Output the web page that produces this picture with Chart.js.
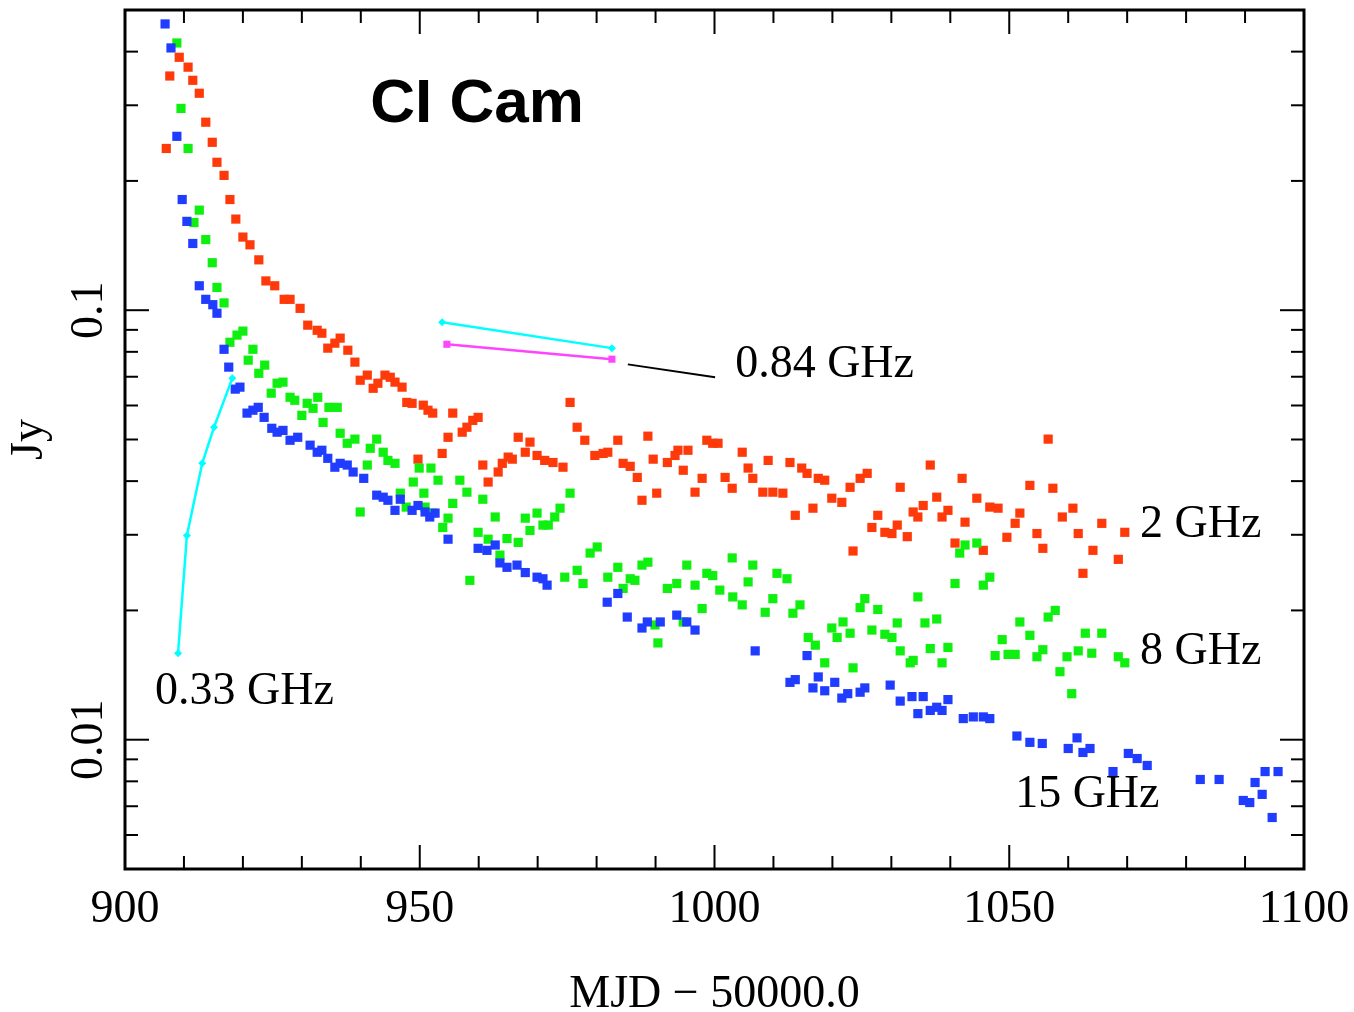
<!DOCTYPE html>
<html>
<head>
<meta charset="utf-8">
<style>
  html, body { margin: 0; padding: 0; background: #fff; }
  canvas { display: block; }
</style>
</head>
<body>
<canvas id="ciCamChart" width="1354" height="1012"></canvas>
<script src="https://cdn.jsdelivr.net/npm/chart.js"></script>
<script>
    // 2 GHz (red)
    const mjd2 = [907.0, 907.6, 909.2, 910.7, 911.5, 912.6, 913.7, 914.8, 915.6, 916.8,
        917.8, 918.8, 920.0, 921.2, 922.7, 923.9, 925.4, 927.0, 928.0, 929.7,
        931.0, 932.6, 933.4, 934.4, 935.6, 936.5, 937.8, 939.0, 939.9, 941.1,
        942.1, 942.9, 944.1, 945.0, 945.8, 947.0, 947.8, 948.7, 949.7, 950.6,
        951.4, 952.2, 953.8, 954.8, 955.6, 957.2, 958.0, 959.0, 959.9, 960.7,
        961.6, 963.3, 964.0, 965.0, 965.7, 966.7, 967.9, 968.7, 969.9, 971.2,
        972.6, 974.3, 975.5, 976.7, 978.0, 979.7, 981.1, 981.9, 983.6, 984.5,
        985.7, 986.9, 987.7, 988.7, 989.6, 990.2, 992.0, 993.3, 993.8, 994.7,
        995.5, 996.7, 997.9, 998.7, 999.7, 1000.6, 1001.8, 1003.0, 1004.7, 1005.7,
        1006.5, 1008.2, 1009.1, 1009.9, 1011.6, 1012.8, 1013.7, 1014.8, 1015.7, 1016.7,
        1017.6, 1018.7, 1019.9, 1021.6, 1023.0, 1023.5, 1024.7, 1025.9, 1026.7, 1027.7,
        1028.9, 1030.1, 1031.0, 1031.5, 1032.7, 1033.7, 1034.5, 1035.4, 1036.6, 1037.7,
        1038.6, 1039.6, 1040.8, 1042.0, 1042.5, 1044.5, 1045.6, 1046.7, 1048.1, 1049.6,
        1051.0, 1051.8, 1053.5, 1054.7, 1055.7, 1056.6, 1057.4, 1059.0, 1060.8, 1061.7,
        1062.5, 1064.2, 1065.7, 1068.5, 1069.6];
    const jy2 = [0.238, 0.351, 0.388, 0.368, 0.343, 0.320, 0.274, 0.246, 0.221, 0.206,
        0.181, 0.163, 0.148, 0.142, 0.131, 0.117, 0.114, 0.106, 0.106, 0.101,
        0.0923, 0.0898, 0.0884, 0.0816, 0.0838, 0.0861, 0.0807, 0.0757, 0.0687, 0.0706,
        0.0658, 0.0676, 0.0706, 0.0698, 0.0680, 0.0662, 0.0610, 0.0607, 0.0450, 0.0601,
        0.0585, 0.0576, 0.0464, 0.0506, 0.0576, 0.0520, 0.0534, 0.0554, 0.0563, 0.0436,
        0.0398, 0.0420, 0.0440, 0.0455, 0.0450, 0.0506, 0.0467, 0.0493, 0.0459, 0.0447,
        0.0442, 0.0431, 0.0610, 0.0534, 0.0498, 0.0459, 0.0464, 0.0467, 0.0498, 0.0440,
        0.0433, 0.0408, 0.0361, 0.0509, 0.0450, 0.0375, 0.0442, 0.0459, 0.0472, 0.0424,
        0.0472, 0.0377, 0.0406, 0.0498, 0.0490, 0.0490, 0.0408, 0.0385, 0.0467, 0.0429,
        0.0406, 0.0377, 0.0447, 0.0377, 0.0375, 0.0442, 0.0333, 0.0429, 0.0417, 0.0346,
        0.0406, 0.0402, 0.0365, 0.0357, 0.0387, 0.0275, 0.0406, 0.0417, 0.0312, 0.0333,
        0.0304, 0.0302, 0.0316, 0.0387, 0.0297, 0.0339, 0.0330, 0.0351, 0.0436, 0.0367,
        0.0330, 0.0342, 0.0287, 0.0406, 0.0321, 0.0365, 0.0276, 0.0348, 0.0346, 0.0296,
        0.0319, 0.0337, 0.0391, 0.0302, 0.0279, 0.0501, 0.0385, 0.0330, 0.0346, 0.0302,
        0.0244, 0.0276, 0.0319, 0.0263, 0.0304];

    // 8 GHz (green)
    const mjd8 = [908.8, 909.5, 910.7, 911.7, 912.6, 913.7, 914.8, 915.6, 916.8, 917.8,
        919.0, 920.0, 920.9, 921.7, 922.7, 923.7, 924.8, 925.8, 926.8, 928.0,
        928.8, 930.0, 930.9, 931.9, 932.7, 933.6, 934.6, 936.0, 936.5, 937.7,
        939.0, 939.9, 941.1, 941.6, 942.7, 943.8, 944.6, 945.8, 946.7, 947.7,
        948.9, 949.9, 950.7, 950.9, 951.9, 952.2, 953.1, 953.9, 954.8, 955.6,
        956.8, 958.0, 958.5, 959.9, 960.7, 961.6, 962.8, 963.6, 964.8, 966.7,
        967.9, 968.7, 969.9, 970.9, 971.8, 972.9, 973.8, 975.5, 974.6, 976.7,
        977.7, 978.9, 980.1, 981.9, 983.6, 984.5, 985.7, 986.5, 987.7, 988.7,
        989.9, 990.4, 992.0, 993.6, 994.7, 995.3, 996.7, 997.9, 998.7, 999.7,
        1000.9, 1003.0, 1003.1, 1004.7, 1005.7, 1006.5, 1008.6, 1009.9, 1010.6, 1012.3,
        1013.3, 1014.5, 1015.9, 1017.1, 1018.7, 1019.9, 1020.8, 1021.8, 1023.0, 1023.5,
        1024.7, 1025.5, 1026.7, 1027.7, 1028.9, 1030.1, 1031.0, 1031.5, 1033.2, 1033.7,
        1034.5, 1035.7, 1036.6, 1037.7, 1038.6, 1039.6, 1040.8, 1041.6, 1042.5, 1044.5,
        1045.6, 1046.7, 1047.6, 1048.8, 1049.8, 1051.0, 1051.8, 1053.5, 1054.7, 1055.7,
        1056.6, 1057.8, 1058.6, 1059.8, 1060.6, 1061.7, 1062.9, 1064.0, 1065.7, 1068.5,
        1069.6];
    const jy8 = [0.419, 0.295, 0.238, 0.160, 0.171, 0.146, 0.129, 0.113, 0.104, 0.0842,
        0.0875, 0.0894, 0.0765, 0.0811, 0.0713, 0.0745, 0.0641, 0.0676, 0.0680, 0.0627,
        0.0617, 0.0569, 0.0607, 0.0591, 0.0627, 0.0548, 0.0594, 0.0594, 0.0517, 0.0490,
        0.0501, 0.0339, 0.0436, 0.0477, 0.0501, 0.0467, 0.0447, 0.0440, 0.0375, 0.0348,
        0.0398, 0.0429, 0.0375, 0.0348, 0.0429, 0.0337, 0.0402, 0.0312, 0.0328, 0.0355,
        0.0402, 0.0377, 0.0235, 0.0304, 0.0363, 0.0293, 0.0330, 0.0269, 0.0294, 0.0288,
        0.0328, 0.0307, 0.0337, 0.0316, 0.0316, 0.0330, 0.0346, 0.0375, 0.0239, 0.0248,
        0.0231, 0.0272, 0.0281, 0.0239, 0.0252, 0.0225, 0.0237, 0.0235, 0.0255, 0.0259,
        0.0185, 0.0168, 0.0225, 0.0231, 0.0188, 0.0255, 0.0229, 0.0202, 0.0244, 0.0241,
        0.0223, 0.0265, 0.0215, 0.0206, 0.0233, 0.0255, 0.0198, 0.0213, 0.0244, 0.0237,
        0.0197, 0.0206, 0.0173, 0.0166, 0.0151, 0.0182, 0.0173, 0.0188, 0.0177, 0.0147,
        0.0203, 0.0213, 0.0180, 0.0201, 0.0176, 0.0173, 0.0187, 0.0161, 0.0151, 0.0153,
        0.0215, 0.0187, 0.0163, 0.0191, 0.0151, 0.0164, 0.0231, 0.0272, 0.0284, 0.0287,
        0.0229, 0.0239, 0.0157, 0.0171, 0.0158, 0.0158, 0.0188, 0.0175, 0.0156, 0.0162,
        0.0193, 0.0200, 0.0144, 0.0156, 0.0128, 0.0161, 0.0177, 0.0159, 0.0177, 0.0156,
        0.0151];

    // 15 GHz (blue)
    const mjd15 = [906.8, 907.8, 908.8, 909.7, 910.5, 911.5, 912.6, 913.7, 914.9, 915.6,
        916.8, 917.6, 918.7, 919.5, 920.7, 921.7, 922.6, 923.6, 924.9, 925.8,
        926.8, 928.0, 929.3, 931.4, 932.6, 933.4, 934.4, 935.6, 936.5, 937.7,
        938.7, 940.5, 942.7, 943.8, 944.6, 945.8, 946.7, 948.7, 949.7, 950.9,
        951.7, 952.6, 954.8, 959.9, 961.4, 962.8, 963.6, 964.8, 966.5, 967.9,
        969.9, 970.9, 971.6, 981.8, 983.6, 985.2, 987.7, 988.6, 990.8, 993.6,
        995.3, 996.7, 1006.9, 1012.8, 1013.7, 1015.7, 1016.7, 1017.6, 1018.7, 1020.4,
        1021.6, 1022.6, 1024.7, 1025.5, 1029.8, 1031.5, 1033.5, 1034.5, 1035.4, 1036.6,
        1037.7, 1038.6, 1039.6, 1042.2, 1043.9, 1045.6, 1046.7, 1051.3, 1053.5, 1055.6,
        1060.0, 1061.5, 1062.5, 1063.7, 1067.6, 1070.2, 1071.7, 1073.4, 1082.4, 1085.6,
        1089.7, 1090.8, 1091.7, 1092.9, 1093.4, 1094.6, 1095.6];
    const jy15 = [0.464, 0.408, 0.254, 0.181, 0.161, 0.143, 0.114, 0.106, 0.103, 0.0984,
        0.0811, 0.0737, 0.0655, 0.0662, 0.0576, 0.0585, 0.0594, 0.0563, 0.0531, 0.0520,
        0.0525, 0.0498, 0.0506, 0.0485, 0.0467, 0.0472, 0.0452, 0.0431, 0.0440, 0.0436,
        0.0420, 0.0406, 0.0371, 0.0367, 0.0361, 0.0342, 0.0363, 0.0342, 0.0351, 0.0339,
        0.0330, 0.0337, 0.0293, 0.0279, 0.0276, 0.0284, 0.0258, 0.0252, 0.0255, 0.0245,
        0.0239, 0.0237, 0.0229, 0.0209, 0.0219, 0.0193, 0.0182, 0.0188, 0.0188, 0.0195,
        0.0188, 0.0180, 0.0161, 0.0136, 0.0138, 0.0157, 0.0132, 0.0140, 0.0130, 0.0136,
        0.0125, 0.0128, 0.0129, 0.0132, 0.0134, 0.0123, 0.0126, 0.0115, 0.0126, 0.0117,
        0.0119, 0.0117, 0.0124, 0.0112, 0.0113, 0.0113, 0.0112, 0.0102, 0.00986, 0.00980,
        0.00954, 0.0101, 0.00934, 0.00954, 0.00843, 0.00929, 0.00904, 0.00871, 0.00808, 0.00808,
        0.00722, 0.00714, 0.00795, 0.00746, 0.00843, 0.00659, 0.00843];

    // 0.33 GHz (cyan line)
    const mjd033 = [909.0, 910.5, 913.1, 915.1, 918.2];
    const jy033 = [0.0159, 0.0299, 0.0440, 0.0534, 0.0694];

    // 0.84 GHz, two short segments (cyan, magenta) and the pointer line to its label
    const mjd084a = [953.8, 982.6];
    const jy084a = [0.0938, 0.0816];
    const mjd084b = [954.6, 982.6];
    const jy084b = [0.0833, 0.0769];
    const leaderMjd = [985.3, 1000.1];
    const leaderJy = [0.0748, 0.0698];

    // axes
    const xMajorTicks = [900, 950, 1000, 1050, 1100];
    const yLabelValues = [0.01, 0.1];
    const yLabelText = ['0.01', '0.1'];

    const pts = (xs, ys) => xs.map((x, i) => ({ x: x, y: ys[i] }));

    const serif = "'Liberation Serif', 'DejaVu Serif', serif";

    // labels inside the plot, anchored in data units
    const notes = [
        { text: 'CI Cam', x: 941.6, y: 0.300, font: "bold 62px 'Liberation Sans', Arial, sans-serif" },
        { text: '0.84 GHz', x: 1003.5, y: 0.0745 },
        { text: '2 GHz', x: 1072.2, y: 0.0317 },
        { text: '8 GHz', x: 1072.2, y: 0.0160 },
        { text: '15 GHz', x: 1051.0, y: 0.00742 },
        { text: '0.33 GHz', x: 905.1, y: 0.0129 }
    ];

    const framePlugin = {
        id: 'frame',
        afterDatasetsDraw(chart) {
            const { ctx, chartArea: a, scales: { x, y } } = chart;
            ctx.save();
            ctx.strokeStyle = '#000';
            ctx.lineWidth = 2;

            const seg = (x1, y1, x2, y2) => {
                ctx.beginPath();
                ctx.moveTo(x1, y1);
                ctx.lineTo(x2, y2);
                ctx.stroke();
            };

            // x ticks, every 10 with major ones every 50
            for (let v = 900; v <= 1100; v += 10) {
                const px = x.getPixelForValue(v);
                const len = xMajorTicks.includes(v) ? 24 : 13;
                seg(px, a.bottom, px, a.bottom - len);
                seg(px, a.top, px, a.top + len);
            }

            // log y ticks
            [0.001, 0.01, 0.1].forEach(dec => {
                for (let k = 1; k <= 9; k++) {
                    const v = k * dec;
                    if (v < 0.00499 || v > 0.501) continue;
                    const py = y.getPixelForValue(v);
                    const len = k === 1 ? 24 : 13;
                    seg(a.left, py, a.left + len, py);
                    seg(a.right, py, a.right - len, py);
                }
            });

            ctx.lineWidth = 3;
            ctx.strokeRect(a.left, a.top, a.right - a.left, a.bottom - a.top);

            // rotated y tick labels
            ctx.fillStyle = '#000';
            ctx.font = '46px ' + serif;
            ctx.textAlign = 'center';
            ctx.textBaseline = 'middle';
            yLabelValues.forEach((v, i) => {
                ctx.save();
                ctx.translate(90, y.getPixelForValue(v));
                ctx.rotate(-Math.PI / 2);
                ctx.fillText(yLabelText[i], 0, 0);
                ctx.restore();
            });

            // text labels
            ctx.textAlign = 'left';
            notes.forEach(n => {
                ctx.font = n.font || '46px ' + serif;
                ctx.fillText(n.text, x.getPixelForValue(n.x), y.getPixelForValue(n.y));
            });
            ctx.restore();
        }
    };

    const ctx = document.getElementById('ciCamChart').getContext('2d');

    new Chart(ctx, {
        type: 'scatter',
        data: {
            datasets: [
                {
                    label: 'pointer',
                    data: pts(leaderMjd, leaderJy),
                    showLine: true,
                    borderColor: '#000',
                    borderWidth: 2,
                    pointRadius: 0
                },
                {
                    label: '0.84 GHz a',
                    data: pts(mjd084a, jy084a),
                    showLine: true,
                    borderColor: '#00ffff',
                    backgroundColor: '#00ffff',
                    borderWidth: 2.5,
                    pointStyle: 'rectRot',
                    pointRadius: 4,
                    pointBorderWidth: 0
                },
                {
                    label: '0.84 GHz b',
                    data: pts(mjd084b, jy084b),
                    showLine: true,
                    borderColor: '#ff44ff',
                    backgroundColor: '#ff44ff',
                    borderWidth: 2.5,
                    pointStyle: 'rect',
                    pointRadius: 5,
                    pointBorderWidth: 0
                },
                {
                    label: '0.33 GHz',
                    data: pts(mjd033, jy033),
                    showLine: true,
                    borderColor: '#00ffff',
                    backgroundColor: '#00ffff',
                    borderWidth: 2.5,
                    pointStyle: 'rectRot',
                    pointRadius: 4,
                    pointBorderWidth: 0
                },
                {
                    label: '15 GHz',
                    data: pts(mjd15, jy15),
                    backgroundColor: '#1f3cff',
                    pointStyle: 'rect',
                    pointRadius: 6.5,
                    pointBorderWidth: 0
                },
                {
                    label: '8 GHz',
                    data: pts(mjd8, jy8),
                    backgroundColor: '#10f010',
                    pointStyle: 'rect',
                    pointRadius: 6.5,
                    pointBorderWidth: 0
                },
                {
                    label: '2 GHz',
                    data: pts(mjd2, jy2),
                    backgroundColor: '#ff3a0a',
                    pointStyle: 'rect',
                    pointRadius: 6.5,
                    pointBorderWidth: 0
                }
            ]
        },
        options: {
            responsive: false,
            animation: false,
            devicePixelRatio: 1,
            layout: { padding: { top: 10, right: 50, left: 0, bottom: 0 } },
            plugins: {
                legend: { display: false },
                tooltip: { enabled: false }
            },
            scales: {
                x: {
                    type: 'linear',
                    min: 900,
                    max: 1100,
                    grid: { display: false, drawTicks: false },
                    border: { display: false },
                    ticks: {
                        stepSize: 50,
                        padding: 18,
                        color: '#000',
                        font: { family: serif, size: 46, lineHeight: 1 },
                        callback: v => String(v)
                    },
                    title: {
                        display: true,
                        text: 'MJD − 50000.0',
                        color: '#000',
                        padding: 0,
                        font: { family: serif, size: 46, lineHeight: 0.75 }
                    },
                    afterFit: s => {
                        s.height = 143;
                        s.paddingLeft = 0;
                        s.paddingRight = 0;
                    }
                },
                y: {
                    type: 'logarithmic',
                    min: 0.005,
                    max: 0.5,
                    grid: { display: false, drawTicks: false },
                    border: { display: false },
                    ticks: { display: false },
                    title: {
                        display: true,
                        text: 'Jy',
                        color: '#000',
                        padding: { top: 7, bottom: 0 },
                        font: { family: serif, size: 46, lineHeight: 1 }
                    },
                    afterFit: s => { s.width = 125; }
                }
            }
        },
        plugins: [framePlugin]
    });
</script>
</body>
</html>
